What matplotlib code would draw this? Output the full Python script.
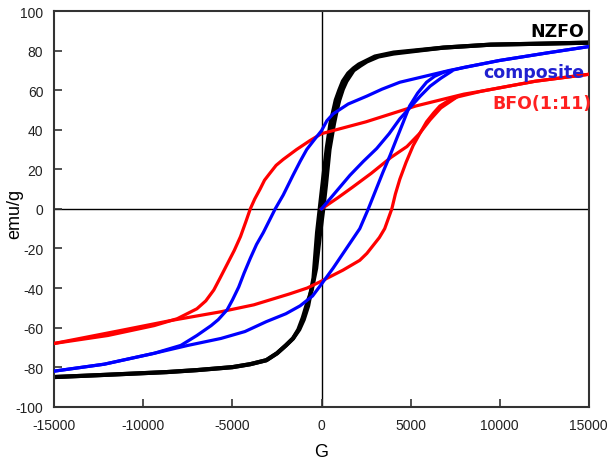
import matplotlib
matplotlib.use("Agg")
from matplotlib import pyplot as plt

plt.rcParams["axes.unicode_minus"] = False

# NZFO (black) - narrow loop
nzfo_down_h = [15000, 12400, 9500, 6850, 4050, 3000, 2550, 2100, 1800, 1500, 1200, 1000, 800, 650, 500, 300,
               100, -100, -250, -450, -750, -1000, -1250, -1600, -2000, -2500, -3100, -4000, -5000, -7000,
               -8700, -12400, -15000]
nzfo_down_m = [84, 83.5, 83, 81.5, 79, 77, 75, 73, 71, 68.5, 64.5, 60, 55, 49, 43, 31,
               16, 0, -12, -35, -49, -56, -61, -65.5, -69, -73, -76.5, -78.5, -80, -81.5,
               -82.5, -84, -85]
nzfo_up_h = [-15000, -12400, -8700, -7000, -5000, -4000, -3100, -2500, -2000, -1600, -1300, -1050, -850, -550,
             -300, -100, 100, 250, 450, 700, 850, 1000, 1200, 1400, 1800, 2200, 2550, 3200, 4050,
             6850, 9500, 12400, 15000]
nzfo_up_m = [-85, -84, -82.5, -81.5, -80, -78.5, -76.5, -73, -69, -65.5, -61, -55, -49, -41,
             -30, -14, 0, 12, 30, 43, 49.5, 55, 60.5, 64.5, 70, 72.5, 74.5, 77, 78.5,
             81.5, 83, 83.5, 84]

# composite (blue)
comp_down_h = [15000, 12800, 10000, 7200, 5800, 4400, 3400, 2550, 1500, 650, 300, 0, -400, -830, -1200, -1600,
               -2150, -2600, -3270, -3650, -4000, -4350, -4650, -5000, -5300, -5800, -6200, -7000, -7900,
               -9400, -12200, -15000]
comp_down_m = [82, 79, 75, 70, 67, 64, 60.5, 57, 53, 48, 44.5, 39.5, 35, 30, 24, 17,
               7, 0, -12, -18, -25, -32.5, -39.5, -46, -51, -56, -59, -64, -69,
               -73, -78.5, -82]
comp_up_h = [-15000, -12200, -9400, -7500, -5650, -4300, -3100, -2000, -1200, -500, 0, 650, 1400, 2150, 2630,
             3050, 3450, 3850, 4200, 4600, 4950, 5400, 5900, 6350, 6850, 8000, 10000, 12800, 15000]
comp_up_m = [-82, -78.5, -73, -69, -65.5, -62, -57, -53, -49, -44, -38, -30, -20, -10, 0,
             9.5, 18.5, 27, 35, 44, 52, 58.5, 64, 67, 69, 71.5, 75, 79, 82]
comp_init_h = [0, 800, 1600, 2350, 3100, 3800, 4400, 5000, 5550, 6100, 6700, 7300]
comp_init_m = [0, 8.5, 17, 24, 30.5, 38, 45.5, 51.5, 57, 62, 66, 69.5]

# BFO(1:11) (red)
bfo_down_h = [15000, 12000, 9000, 8000, 5300, 2500, 0, -650, -1400, -2150, -2550, -2900, -3200, -3450, -3750,
              -4000, -4250, -4550, -4900, -5300, -5700, -6050, -6500, -7000, -8100, -9400, -12000, -15000]
bfo_down_m = [68, 64.5, 59.5, 58, 52, 44, 38, 34.5, 30, 25, 22, 18, 14.5, 10, 5,
              0, -6.5, -14, -21, -28, -35, -41, -46.5, -50.5, -55.5, -59, -64, -68]
bfo_up_h = [-15000, -11300, -8500, -5650, -3800, -1800, -800, 0, 1200, 2150, 2550, 2900, 3250, 3550, 3950,
            4150, 4400, 4750, 5150, 5550, 5900, 6300, 6650, 7100, 7600, 9000, 12000, 15000]
bfo_up_m = [-68, -61.5, -56.5, -52, -48.5, -43, -40, -36.5, -31, -26, -22.5, -18.5, -14.5, -10, 0,
            7.5, 15, 23.5, 32, 38.5, 44, 48.5, 52, 54.5, 56.5, 59.5, 64.5, 68]
bfo_init_h = [0, 900, 1750, 2800, 3900, 4800, 5500, 6100, 6700, 7600]
bfo_init_m = [0, 5.5, 11, 18, 26, 31.5, 38, 45, 51, 56.5]

fig = plt.figure(figsize=(6.1, 4.64), dpi=100)
ax = fig.add_axes([0.0893, 0.1213, 0.8755, 0.8528])

ax.axhline(0, color="black", lw=1.0, zorder=1)
ax.axvline(0, color="black", lw=1.0, zorder=1)

ax.plot(nzfo_down_h, nzfo_down_m, color="black", lw=3.0, zorder=2)
ax.plot(nzfo_up_h, nzfo_up_m, color="black", lw=3.0, zorder=2)

ax.plot(bfo_down_h, bfo_down_m, color="#ff0000", lw=2.3, zorder=3)
ax.plot(bfo_up_h, bfo_up_m, color="#ff0000", lw=2.3, zorder=3)
ax.plot(bfo_init_h, bfo_init_m, color="#ff0000", lw=2.3, zorder=3)

ax.plot(comp_down_h, comp_down_m, color="#0000ff", lw=2.3, zorder=4)
ax.plot(comp_up_h, comp_up_m, color="#0000ff", lw=2.3, zorder=4)
ax.plot(comp_init_h, comp_init_m, color="#0000ff", lw=2.3, zorder=4)

ax.set_xlim(-15000, 15000)
ax.set_ylim(-100, 100)
ax.set_xticks(range(-15000, 15001, 5000))
ax.set_yticks(range(-100, 101, 20))
ax.tick_params(direction="in", length=6, width=1.2, colors="#333333", labelsize=10,
               top=False, right=False, pad=8)
for lbl in ax.get_xticklabels() + ax.get_yticklabels():
    lbl.set_family("Liberation Sans")
    lbl.set_color("#222222")
for sp in ax.spines.values():
    sp.set_color("#333333")
    sp.set_linewidth(1.5)

ax.set_xlabel("G", fontsize=13, family="Liberation Sans")
ax.set_ylabel("emu/g", fontsize=13, family="Liberation Sans")
ax.xaxis.set_label_coords(0.5, -0.092)
ax.yaxis.set_label_coords(-0.058, 0.49)

ax.text(0.992, 0.95, "NZFO", transform=ax.transAxes, ha="right", va="center",
        fontsize=12.5, fontweight="bold", color="black")
ax.text(0.992, 0.845, "composite", transform=ax.transAxes, ha="right", va="center",
        fontsize=12.5, fontweight="bold", color="#2020d0")
ax.text(1.005, 0.767, "BFO(1:11)", transform=ax.transAxes, ha="right", va="center",
        fontsize=12.5, fontweight="bold", color="#ff2020", clip_on=False)

fig.savefig("out.png", dpi=100)
